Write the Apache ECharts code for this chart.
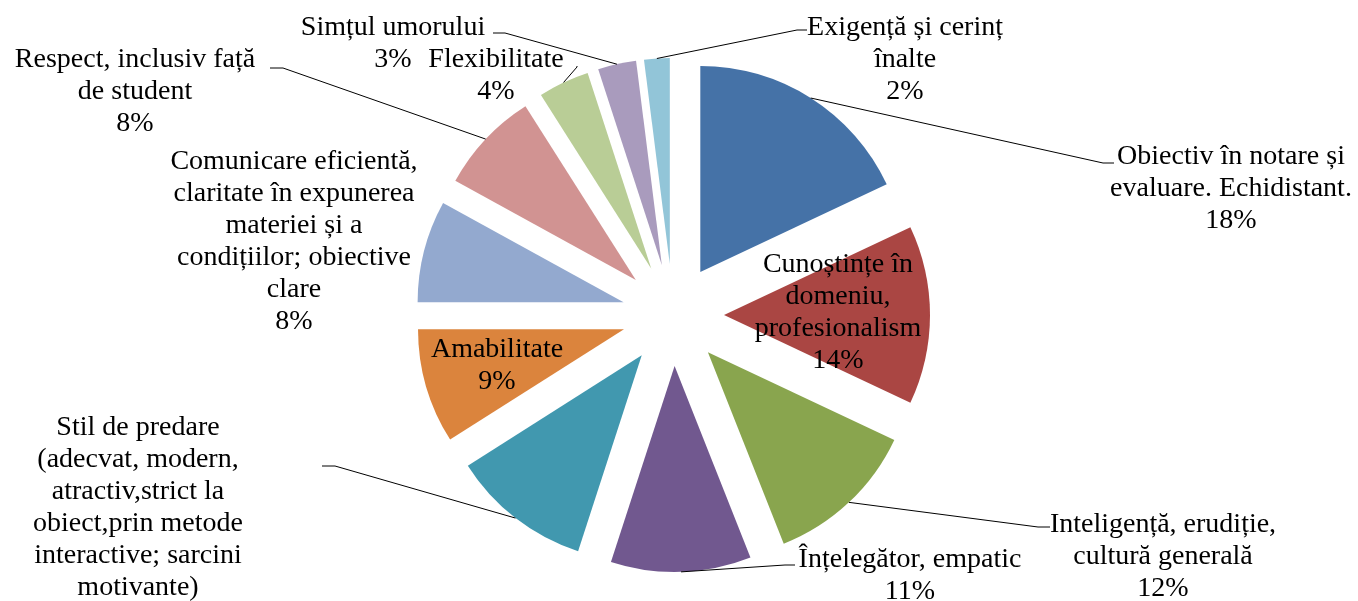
<!DOCTYPE html>
<html>
<head>
<meta charset="utf-8">
<script src="https://cdn.jsdelivr.net/npm/echarts@6/dist/echarts.min.js"></script>
<style>
  html, body { margin: 0; padding: 0; background: #fff; }
  #pieChart { width: 1358px; height: 601px; }
</style>
</head>
<body>
<div id="pieChart"></div>
<script>
// date din grafic
var categorii = [
  'Obiectiv în notare și\nevaluare. Echidistant.',
  'Cunoștințe în\ndomeniu,\nprofesionalism',
  'Inteligență, erudiție,\ncultură generală',
  'Înțelegător, empatic',
  'Stil de predare\n(adecvat, modern,\natractiv,strict la\nobiect,prin metode\ninteractive; sarcini\nmotivante)',
  'Amabilitate',
  'Comunicare eficientă,\nclaritate în expunerea\nmateriei și a\ncondițiilor; obiective\nclare',
  'Respect, inclusiv față\nde student',
  'Flexibilitate',
  'Simțul umorului',
  'Exigență și cerinț\nînalte'
];
var procente = [18, 14, 12, 11, 11, 9, 8, 8, 4, 3, 2];
var culori = ['#4572A7', '#AA4643', '#89A54E', '#71588F', '#4198AF', '#DB843D',
  '#93A9CF', '#D19392', '#B9CD96', '#A99BBD', '#92C5D8'];

// geometrie
var centru = [673, 315];
var raza = 206;
var departare = 51;

// pozitia etichetelor: centrul textului [x, y], cotul liniei, capatul liniei
var pozEtichete = [
  [1231, 189, [1103, 163], [1114, 163]],
  [838, 313, null, null],
  [1163, 557, [1038, 527], [1050, 527]],
  [910, 576, [785, 565], [795, 565]],
  [138, 524, [335, 466], [322, 466]],
  [497, 366, null, null],
  [294, 242, null, null],
  [135, 92, [283, 68], [270, 68]],
  [496, 76, [577, 67], [577, 66]],
  [393, 44, [505, 33], [493, 33]],
  [905, 60, [797, 30], [807, 30]]
];
var interior = [1, 5];

// unghiul din mijlocul fiecarei felii (grade, in sensul acelor de ceas de sus)
var total = procente.reduce(function (a, b) { return a + b; }, 0);
var unghiMijloc = [];
var cumul = 0;
procente.forEach(function (v) {
  unghiMijloc.push((cumul + v / 2) / total * 360);
  cumul += v;
});

var chart = echarts.init(document.getElementById('pieChart'));

var felii = categorii.map(function (nume, i) {
  return { name: nume, value: procente[i], selected: true, itemStyle: { color: culori[i] } };
});

var etichete = categorii.map(function (nume, i) {
  var inauntru = interior.indexOf(i) >= 0;
  return {
    name: nume,
    value: procente[i],
    label: { position: inauntru ? 'inside' : 'outside' },
    labelLine: { show: !inauntru && pozEtichete[i][2] !== null }
  };
});

chart.setOption({
  animation: false,
  series: [{
    type: 'pie',
    z: 2,
    center: centru,
    radius: raza,
    startAngle: 90,
    clockwise: true,
    silent: true,
    selectedMode: 'multiple',
    selectedOffset: departare,
    label: { show: false },
    labelLine: { show: false },
    data: felii
  }, {
    type: 'pie',
    z: 5,
    center: centru,
    radius: raza,
    startAngle: 90,
    clockwise: true,
    silent: true,
    avoidLabelOverlap: false,
    itemStyle: { color: 'rgba(0,0,0,0)', borderWidth: 0 },
    data: etichete,
    label: {
      formatter: '{b}\n{c}%',
      color: '#000',
      fontFamily: '"Liberation Serif", "Times New Roman", "DejaVu Serif", serif',
      fontSize: 28,
      lineHeight: 32,
      align: 'center'
    },
    labelLine: {
      lineStyle: { color: '#000', width: 1 }
    },
    labelLayout: function (params) {
      var i = params.dataIndex;
      var p = pozEtichete[i];
      var res = { x: p[0], y: p[1], align: 'center', verticalAlign: 'middle' };
      if (p[2]) {
        var a = unghiMijloc[i] * Math.PI / 180;
        var start = [
          centru[0] + (raza + departare) * Math.sin(a),
          centru[1] - (raza + departare) * Math.cos(a)
        ];
        res.labelLinePoints = [start, p[2], p[3]];
      }
      return res;
    }
  }]
});
</script>
</body>
</html>
